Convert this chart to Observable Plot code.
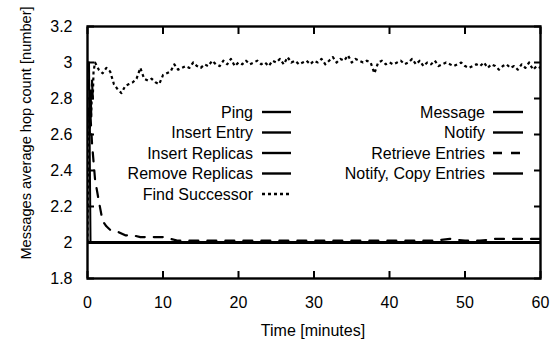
<!DOCTYPE html>
<html>
<head>
<meta charset="utf-8">
<script src="https://cdn.jsdelivr.net/npm/d3@7"></script>
<script src="https://cdn.jsdelivr.net/npm/@observablehq/plot@0.6"></script>
<style>
  html, body { margin: 0; padding: 0; background: #fff; }
  #chart { width: 550px; height: 340px; }
</style>
</head>
<body>
<div id="chart"></div>
<script>
// ---- Data ----
const xTicks = [0, 10, 20, 30, 40, 50, 60];
const yTicks = [1.8, 2, 2.2, 2.4, 2.6, 2.8, 3, 3.2];

const leftLegend = ["Ping", "Insert Entry", "Insert Replicas", "Remove Replicas", "Find Successor"];
const rightLegend = ["Message", "Notify", "Retrieve Entries", "Notify, Copy Entries"];
const legendStyle = {
  "Ping": "solid", "Insert Entry": "solid", "Insert Replicas": "solid", "Remove Replicas": "solid",
  "Find Successor": "dotted", "Message": "solid", "Notify": "solid",
  "Retrieve Entries": "dashed", "Notify, Copy Entries": "solid"
};

// Flat series (hop count 2 all along)
const flatTimes = [0, 60];
const flatValues = [2, 2];
const flatSeries = ["Ping", "Insert Entry", "Insert Replicas", "Remove Replicas", "Message", "Notify"];

const copyTimes = [0, 0.2, 0.4, 60];
const copyValues = [3.0, 3.0, 2.0, 2.0];

const findTimes = [0, 0.1, 0.2, 0.3, 0.4, 0.5, 0.6, 0.7, 0.8, 1, 1.5,
  2, 2.5, 3, 3.5, 4, 4.5, 5, 5.5, 6, 6.5, 7, 7.5, 8, 8.5, 9, 9.5, 10, 10.5, 11, 11.5,
  12, 12.5, 13, 13.5, 14, 14.5, 15, 15.5, 16, 16.5, 17, 17.5, 18, 18.5, 19, 19.5,
  20, 20.5, 21, 21.5, 22, 22.5, 23, 23.5, 24, 24.5, 25, 25.5, 26, 26.5, 27, 27.5,
  28, 28.5, 29, 29.5, 30, 30.5, 31, 31.5, 32, 32.5, 33, 33.5, 34, 34.5, 35, 35.5,
  36, 36.5, 37, 37.5, 38, 38.5, 39, 39.5, 40, 40.5, 41, 41.5, 42, 42.5, 43, 43.5,
  44, 44.5, 45, 45.5, 46, 46.5, 47, 47.5, 48, 48.5, 49, 49.5, 50, 50.5, 51, 51.5,
  52, 52.5, 53, 53.5, 54, 54.5, 55, 55.5, 56, 56.5, 57, 57.5, 58, 58.5, 59, 59.5, 60];
const findValues = [2.0, 2.5, 2.75, 2.6, 2.85, 2.7, 2.9, 2.8, 2.95, 3.0, 2.96,
  2.94, 2.97, 2.95, 2.88, 2.85, 2.83, 2.87, 2.88, 2.89, 2.91, 2.97, 2.91, 2.9, 2.91, 2.89, 2.88, 2.93, 2.94, 2.95, 2.99,
  2.96, 2.97, 2.98, 2.97, 3.0, 2.98, 2.97, 2.99, 2.98, 3.01, 2.99, 2.98, 3.01, 2.99, 3.02, 2.98,
  3.0, 2.99, 3.01, 2.99, 3.0, 3.01, 2.99, 3.0, 2.98, 3.01, 3.0, 3.02, 2.99, 3.03, 3.0, 3.01,
  2.99, 3.0, 3.01, 2.99, 3.01, 3.0, 3.02, 2.99, 3.01, 3.03, 3.0, 3.02, 3.01, 3.04, 3.0, 3.02,
  3.01, 3.0, 3.01, 3.0, 2.94, 3.0, 3.01, 2.99, 3.0, 2.99, 3.0, 3.01, 2.99, 3.0, 3.02, 2.99,
  3.01, 2.98, 3.0, 2.99, 3.01, 2.98, 2.99, 3.0, 2.99, 2.98, 2.99, 3.0, 2.98, 2.97, 2.98, 2.99,
  2.98, 3.0, 2.97, 2.99, 2.98, 2.96, 2.98, 2.99, 2.97, 2.98, 2.96, 2.99, 2.97, 3.0, 2.96, 2.98, 2.97];

const retrieveTimes = [0, 0.2, 0.4, 0.6, 0.8, 1, 1.5, 2, 2.5, 3, 4, 5, 6, 7, 8, 9, 10, 11, 12,
  14, 16, 18, 20, 22, 24, 26, 28, 30, 32, 34, 36, 38, 40, 42, 44, 46, 48, 50, 52, 54, 56, 58, 60];
const retrieveValues = [3.0, 2.85, 2.7, 2.55, 2.45, 2.35, 2.23, 2.12, 2.09, 2.07, 2.06, 2.04, 2.04, 2.03, 2.03, 2.03, 2.03, 2.02, 2.01,
  2.01, 2.01, 2.01, 2.01, 2.01, 2.01, 2.01, 2.01, 2.01, 2.01, 2.01, 2.01, 2.01, 2.01, 2.01, 2.01, 2.01, 2.02, 2.01, 2.01, 2.02, 2.02, 2.02, 2.02];

// ---- Build tables ----
const flatData = flatSeries.flatMap(s => flatTimes.map((t, i) => ({series: s, t, v: flatValues[i]})));
const copyData = copyTimes.map((t, i) => ({t, v: copyValues[i]}));
const findData = findTimes.map((t, i) => ({t, v: findValues[i]}));
const retrieveData = retrieveTimes.map((t, i) => ({t, v: retrieveValues[i]}));

const FONT = "Liberation Sans, Arial, Helvetica, sans-serif";
const FS = 16;
const dashFor = {solid: null, dotted: "3,3", dashed: "9,9"};

const plot = Plot.plot({
  width: 550,
  height: 340,
  marginLeft: 87,
  marginRight: 10,
  marginTop: 26,
  marginBottom: 62,
  style: {fontFamily: FONT, fontSize: FS + "px", color: "#000", background: "#fff", overflow: "visible"},
  x: {domain: [0, 60], ticks: xTicks, label: null},
  y: {domain: [1.8, 3.2], ticks: yTicks, label: null},
  marks: [
    Plot.line(flatData, {x: "t", y: "v", z: "series", stroke: "#000", strokeWidth: 2.4, clip: true}),
    Plot.line(copyData, {x: "t", y: "v", stroke: "#000", strokeWidth: 2, clip: true}),
    Plot.line(retrieveData, {x: "t", y: "v", stroke: "#000", strokeWidth: 2.2, strokeDasharray: dashFor.dashed, clip: true}),
    Plot.line(findData, {x: "t", y: "v", stroke: "#000", strokeWidth: 2.2, strokeDasharray: dashFor.dotted, strokeLinecap: "butt", clip: true}),
    Plot.axisX({anchor: "bottom", ticks: xTicks, tickSize: -7, tickPadding: 25, strokeWidth: 2, tickFormat: d3.format("d"), fontSize: FS}),
    Plot.axisX({anchor: "top", ticks: xTicks, tickSize: -7, strokeWidth: 2, tickFormat: () => ""}),
    Plot.axisY({anchor: "left", ticks: yTicks, tickSize: -7, tickPadding: 22, strokeWidth: 2, tickFormat: d => String(+d.toFixed(1)), fontSize: FS}),
    Plot.axisY({anchor: "right", ticks: yTicks, tickSize: -7, strokeWidth: 2, tickFormat: () => ""}),
    Plot.frame({stroke: "#000", strokeWidth: 2.4})
  ]
});

document.getElementById("chart").appendChild(plot);

// ---- Axis titles and in-plot legend ----
const svg = d3.select(plot);
svg.append("text")
  .attr("x", 313).attr("y", 330).attr("dy", "0.35em")
  .attr("text-anchor", "middle")
  .style("font-family", FONT).style("font-size", FS + "px").attr("fill", "#000")
  .text("Time [minutes]");
svg.append("text")
  .attr("transform", "translate(26,133) rotate(-90)")
  .attr("text-anchor", "middle").attr("dy", "0.35em")
  .style("font-family", FONT).style("font-size", "14.6px").attr("fill", "#000")
  .text("Messages average hop count [number]");

function drawLegend(names, textRight, lineX1, lineX2) {
  const g = svg.append("g");
  names.forEach((name, i) => {
    const y = 112 + i * 20.5;
    g.append("text")
      .attr("x", textRight).attr("y", y).attr("dy", "0.35em")
      .attr("text-anchor", "end")
      .style("font-family", FONT).style("font-size", FS + "px").attr("fill", "#000")
      .text(name);
    const dash = dashFor[legendStyle[name]];
    g.append("line")
      .attr("x1", lineX1).attr("x2", lineX2).attr("y1", y).attr("y2", y)
      .attr("stroke", "#000").attr("stroke-width", 2.4)
      .attr("stroke-dasharray", dash);
  });
}
drawLegend(leftLegend, 253, 262, 291);
drawLegend(rightLegend, 485, 493, 523);
</script>
</body>
</html>
